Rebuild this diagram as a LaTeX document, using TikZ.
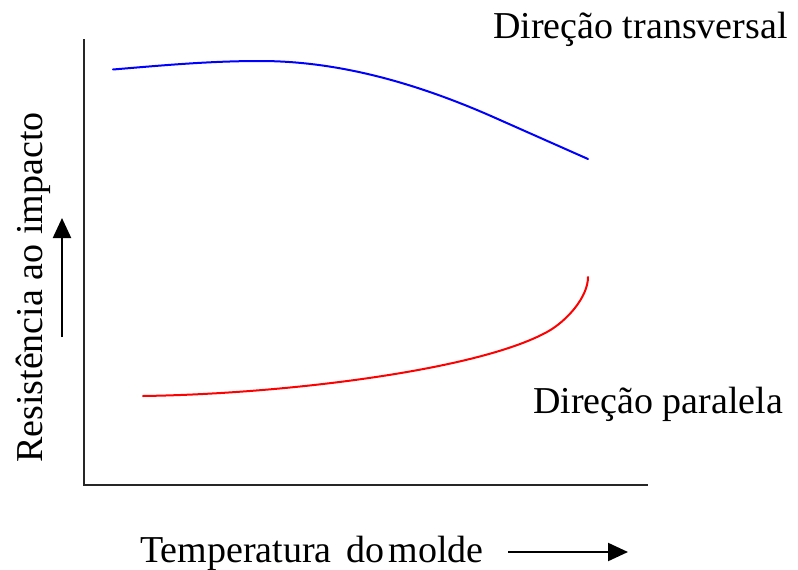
\documentclass[tikz,border=0pt]{standalone}
\usepackage{fontspec}
\setmainfont{Liberation Serif}
\usetikzlibrary{arrows.meta}
\begin{document}
\begin{tikzpicture}[x=1pt,y=-1pt,
  lbl/.style={inner sep=0pt,font=\fontsize{38}{40}\selectfont},
  axisline/.style={line width=2.2pt,color=black!85},
  arr/.style={line width=2.2pt,-{Triangle[length=20pt,width=18pt]}},
  curve/.style={line width=2pt,line cap=round}]
\useasboundingbox[fill=white] (0,0) rectangle (798,570);
% axes
\coordinate (top) at (84,39);
\coordinate (origin) at (84,485);
\coordinate (right) at (648,485);
\draw[axisline] (top) -- (origin) -- (right);
% curves
\coordinate (b0) at (113,69.5);
\coordinate (b1) at (260,61);
\coordinate (b2) at (500,120);
\coordinate (b3) at (588,159);
\draw[curve,blue] (b0) .. controls (163,65.3) and (210,61) .. (b1)
  .. controls (340,61) and (420,84) .. (b2) -- (b3);
\coordinate (r0) at (143,396);
\coordinate (r1) at (547,332);
\coordinate (r2) at (588,277);
\draw[curve,red] (r0) .. controls (283,394) and (477,370.5) .. (r1)
  .. controls (567,321) and (588,297) .. (r2);
% labels
\node[lbl,anchor=base west] (trans) at (493,38) {Direção transversal};
\node[lbl,anchor=base west] (para) at (533,413) {Direção paralela};
\node[lbl,anchor=base west] (xlab) at (140,562) {Temperatura\hspace{5pt} do\hspace{-5pt} molde};
\node[lbl,anchor=base west,rotate=90] (ylab) at (42,463) {Resistência ao impacto};
% arrows
\coordinate (ya) at (62,337);
\coordinate (yb) at (62,218);
\draw[arr] (ya) -- (yb);
\coordinate (xa) at (508,552);
\coordinate (xb) at (628,552);
\draw[arr] (xa) -- (xb);
\end{tikzpicture}
\end{document}
